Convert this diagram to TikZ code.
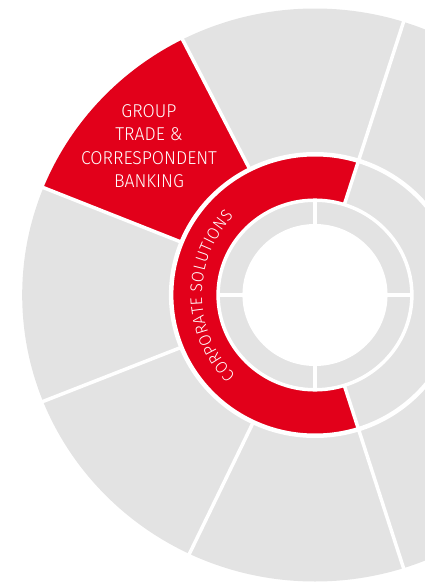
\documentclass[tikz,border=0pt]{standalone}
\usepackage{fontspec}
\setmainfont{Fira Sans Light}[FakeStretch=0.95]
\usetikzlibrary{decorations.text}
\definecolor{brandred}{HTML}{E2001A}
\definecolor{panelgrey}{HTML}{E3E3E3}
\begin{document}
\begin{tikzpicture}[x=1pt,y=1pt,
  gap/.style={white, line width=3.5pt},
  seglabel/.style={text=white, font=\fontsize{18.6}{20}\selectfont, anchor=base, inner sep=0pt}]
\useasboundingbox (-315,-287) rectangle (109,295);
\begin{scope}[xscale=1.022]
  % outer ring of segments
  \fill[panelgrey] (0,0) circle[radius=286.5];
  % highlighted outer segment
  \fill[brandred] (116.9:141) arc[start angle=116.9, end angle=158, radius=141]
    -- (158:286.5) arc[start angle=158, end angle=116.9, radius=286.5] -- cycle;
  % middle ring, red part
  \fill[brandred] (72.4:95) arc[start angle=72.4, end angle=287.6, radius=95]
    -- (287.6:141) arc[start angle=287.6, end angle=72.4, radius=141] -- cycle;
  % separating gaps
  \draw[white, line width=4.5pt] (0,0) circle[radius=140.75];
  \draw[gap] (0,0) circle[radius=94.8];
  \fill[white] (0,0) circle[radius=71];
  \foreach \a in {116.9,158,201.8,244.6} \draw[gap] (\a:141) -- (\a:290);
  \foreach \a in {72.4,287.6} \draw[gap] (\a:95) -- (\a:290);
  \foreach \a in {0,90,180,270} \draw[gap] (\a:70) -- (\a:95);
\end{scope}
% segment caption
\node[seglabel] (t1) at (-166,178) {GROUP};
\node[seglabel] (t2) at (-166,155) {TRADE \&};
\node[seglabel] (t3) at (-166,131) {CORRESPONDENT};
\node[seglabel] (t4) at (-166,108) {BANKING};
% ring caption
\path[decorate, decoration={text along path, text align=fit to path,
  text={|\color{white}\fontsize{16.8}{16}\selectfont|CORPORATE SOLUTIONS}}]
  (225.5:113) arc[start angle=225.5, end angle=136, radius=113];
\end{tikzpicture}
\end{document}
